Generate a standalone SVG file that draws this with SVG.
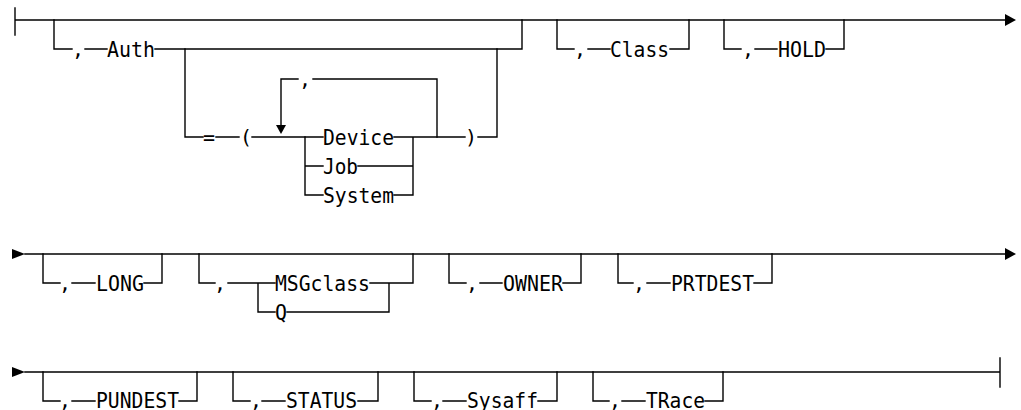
<svg xmlns="http://www.w3.org/2000/svg" width="1021" height="410" viewBox="0 0 1021 410">
<style>
.r{stroke:#000;stroke-width:1.4;fill:none;stroke-linecap:square}
.t{font-family:"DejaVu Sans Mono","Liberation Mono",monospace;font-size:22px;fill:#000}
.c{font-family:"DejaVu Sans Mono","Liberation Mono",monospace;font-size:20px;fill:#000;text-anchor:middle}
.a{fill:#000}
</style>
<rect width="1021" height="410" fill="#fff"/>
<g id="connectors">
<path class="r" d="M15 8V35M15 20H1005"/>
<polygon class="a" points="1005,14 1016,20 1005,26"/>
<path class="r" d="M54 20V49H72M85 49H107M155 49H522V20"/>
<path class="r" d="M185 49V137H203M216 137H239M252 137H323"/>
<path class="r" d="M305 137V195H323M305 166H323"/>
<path class="r" d="M394 137H465M358 166H413M394 195H413M413 137V195"/>
<path class="r" d="M281 126V79H298M313 79H437V137"/>
<polygon class="a" points="276,125 286,125 281,134"/>
<path class="r" d="M478 137H497V49"/>
<path class="r" d="M557 20V49H574M588 49H610M670 49H689V20"/>
<path class="r" d="M724 20V49H741M755 49H777M826 49H844V20"/>
<polygon class="a" points="12,249 25,254 12,259"/>
<path class="r" d="M25 254H1005"/>
<polygon class="a" points="1005,248 1016,254 1005,260"/>
<path class="r" d="M43 254V283H60M72 283H95M144 283H162V254"/>
<path class="r" d="M199 254V283H215M228 283H275M258 283V312H275M287 312H389V283M370 283H413V254"/>
<path class="r" d="M449 254V283H466M480 283H502M563 283H581V254"/>
<path class="r" d="M618 254V283H633M647 283H670M754 283H772V254"/>
<polygon class="a" points="12,367 25,372 12,377"/>
<path class="r" d="M25 372H1000M1000 358V387"/>
<path class="r" d="M43 372V401H60M72 401H95M179 401H197V372"/>
<path class="r" d="M233 372V401H250M262 401H285M358 401H378V372"/>
<path class="r" d="M414 372V401H431M443 401H466M538 401H557V372"/>
<path class="r" d="M593 372V401H609M622 401H645M705 401H723V372"/>
</g>
<g id="node-auth">
<text class="c" x="78" y="56">,</text>
<text class="t" x="107" y="57" textLength="48" lengthAdjust="spacingAndGlyphs">Auth</text>
<text class="c" x="209" y="144">=</text>
<text class="c" x="246" y="144">(</text>
<text class="c" x="305" y="86">,</text>
<text class="c" x="471" y="144">)</text>
</g>
<g id="node-device"><text class="t" x="323" y="145" textLength="71" lengthAdjust="spacingAndGlyphs">Device</text></g>
<g id="node-job"><text class="t" x="323" y="174" textLength="35" lengthAdjust="spacingAndGlyphs">Job</text></g>
<g id="node-system"><text class="t" x="323" y="203" textLength="71" lengthAdjust="spacingAndGlyphs">System</text></g>
<g id="node-class"><text class="c" x="580" y="56">,</text><text class="t" x="610" y="57" textLength="59" lengthAdjust="spacingAndGlyphs">Class</text></g>
<g id="node-hold"><text class="c" x="748" y="56">,</text><text class="t" x="778" y="57" textLength="48" lengthAdjust="spacingAndGlyphs">HOLD</text></g>
<g id="node-long"><text class="c" x="65" y="290">,</text><text class="t" x="96" y="291" textLength="48" lengthAdjust="spacingAndGlyphs">LONG</text></g>
<g id="node-msgclass"><text class="c" x="220" y="290">,</text><text class="t" x="275" y="291" textLength="95" lengthAdjust="spacingAndGlyphs">MSGclass</text><text class="t" x="275" y="320" textLength="12" lengthAdjust="spacingAndGlyphs">Q</text></g>
<g id="node-owner"><text class="c" x="472" y="290">,</text><text class="t" x="503" y="291" textLength="60" lengthAdjust="spacingAndGlyphs">OWNER</text></g>
<g id="node-prtdest"><text class="c" x="639" y="290">,</text><text class="t" x="671" y="291" textLength="83" lengthAdjust="spacingAndGlyphs">PRTDEST</text></g>
<g id="node-pundest"><text class="c" x="65" y="407">,</text><text class="t" x="96" y="408" textLength="83" lengthAdjust="spacingAndGlyphs">PUNDEST</text></g>
<g id="node-status"><text class="c" x="256" y="407">,</text><text class="t" x="286" y="408" textLength="71" lengthAdjust="spacingAndGlyphs">STATUS</text></g>
<g id="node-sysaff"><text class="c" x="437" y="407">,</text><text class="t" x="467" y="408" textLength="71" lengthAdjust="spacingAndGlyphs">Sysaff</text></g>
<g id="node-trace"><text class="c" x="615" y="407">,</text><text class="t" x="646" y="408" textLength="59" lengthAdjust="spacingAndGlyphs">TRace</text></g>
</svg>
